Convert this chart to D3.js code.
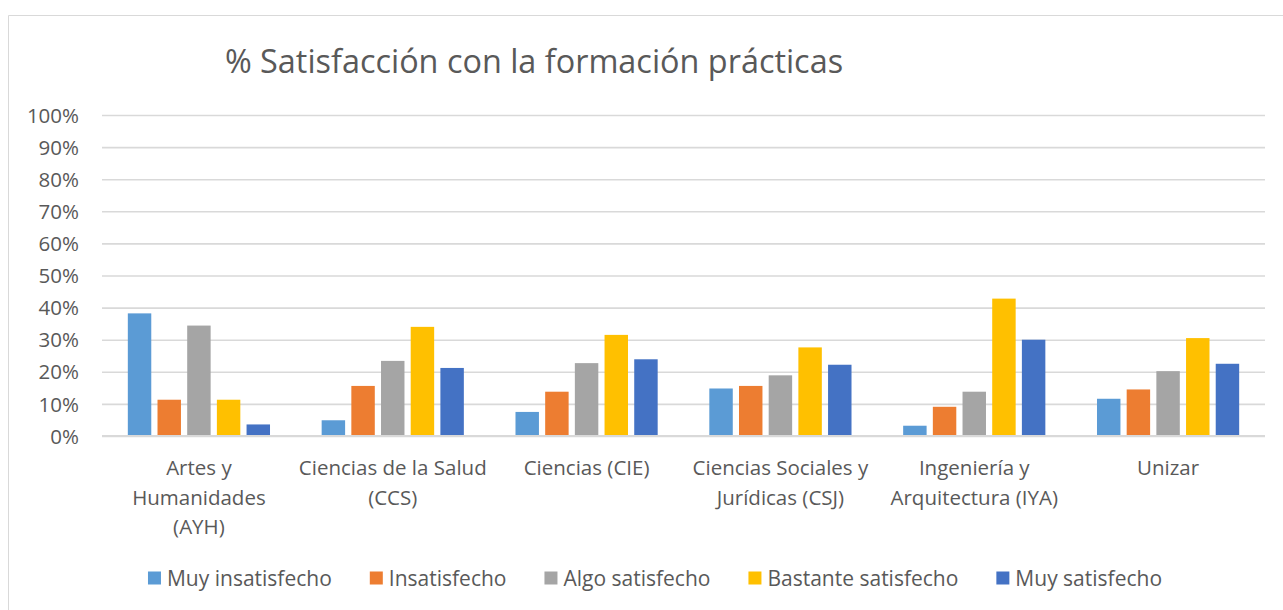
<!DOCTYPE html>
<html>
<head>
<meta charset="utf-8">
<script src="https://cdn.jsdelivr.net/npm/d3@7"></script>
<style>
  html, body { margin: 0; padding: 0; background: #fff; overflow: hidden; }
  svg { display: block; }
  text { font-family: "Open Sans", sans-serif; fill: #595959; }
</style>
</head>
<body>
<svg id="chart"></svg>
<script>
const categories = [
  ["Artes y", "Humanidades", "(AYH)"],
  ["Ciencias de la Salud", "(CCS)"],
  ["Ciencias (CIE)"],
  ["Ciencias Sociales y", "Jurídicas (CSJ)"],
  ["Ingeniería y", "Arquitectura (IYA)"],
  ["Unizar"]
];
const seriesNames = ["Muy insatisfecho", "Insatisfecho", "Algo satisfecho", "Bastante satisfecho", "Muy satisfecho"];
const seriesColors = ["#5B9BD5", "#ED7D31", "#A5A5A5", "#FFC000", "#4472C4"];

// values per series, one per category (fractions)
const muyInsatisfecho    = [0.382, 0.049, 0.075, 0.148, 0.032, 0.116];
const insatisfecho       = [0.113, 0.156, 0.138, 0.156, 0.091, 0.145];
const algoSatisfecho     = [0.344, 0.234, 0.227, 0.189, 0.138, 0.202];
const bastanteSatisfecho = [0.113, 0.340, 0.315, 0.276, 0.428, 0.305];
const muySatisfecho      = [0.036, 0.212, 0.239, 0.222, 0.300, 0.225];
const yTicks = [0, 0.1, 0.2, 0.3, 0.4, 0.5, 0.6, 0.7, 0.8, 0.9, 1.0];

const seriesValues = [muyInsatisfecho, insatisfecho, algoSatisfecho, bastanteSatisfecho, muySatisfecho];

const width = 1283, height = 610;
const margin = { top: 115, right: 18, bottom: 174, left: 102 };
const innerWidth = width - margin.left - margin.right;
const innerHeight = height - margin.top - margin.bottom;

const svg = d3.select("#chart").attr("width", width).attr("height", height);

// chart frame (only top and left edges are in view)
svg.append("path")
  .attr("d", `M8.5,${height}V15.5H${width}`)
  .attr("fill", "none").attr("stroke", "#D9D9D9").attr("stroke-width", 1);

const g = svg.append("g").attr("transform", `translate(${margin.left},${margin.top})`);

const x0 = d3.scaleBand().domain(d3.range(categories.length)).range([0, innerWidth]).padding(0);
const x1 = d3.scaleBand().domain(d3.range(seriesNames.length)).range([0, x0.bandwidth()])
  .paddingInner(0.21).paddingOuter(0.87);
const y = d3.scaleLinear().domain([0, 1]).range([innerHeight, 0]);

// gridlines + tick labels
const yAxis = d3.axisLeft(y).tickValues(yTicks).tickFormat(d3.format(".0%")).tickSize(-innerWidth).tickPadding(23);
const yg = g.append("g").call(yAxis);
yg.attr("font-family", null).attr("font-size", null);
yg.select(".domain").remove();
yg.selectAll(".tick line").attr("stroke", "#D9D9D9").attr("stroke-width", 1.6);
yg.selectAll(".tick text").attr("font-size", 20.5).attr("fill", "#595959").attr("dy", "0.35em");

// bars
const groups = g.selectAll(".cat")
  .data(categories.map((c, i) => i))
  .join("g")
  .attr("transform", i => `translate(${x0(i)},0)`);

groups.selectAll("rect")
  .data(i => seriesValues.map((vals, s) => ({ s, v: vals[i] })))
  .join("rect")
  .attr("x", d => x1(d.s))
  .attr("y", d => y(d.v))
  .attr("width", x1.bandwidth())
  .attr("height", d => innerHeight - y(d.v))
  .attr("fill", d => seriesColors[d.s]);

// baseline
g.append("line")
  .attr("x1", 0).attr("x2", innerWidth)
  .attr("y1", innerHeight).attr("y2", innerHeight)
  .attr("stroke", "#D9D9D9").attr("stroke-width", 2);

// category labels
const xg = g.append("g").attr("transform", `translate(0,${innerHeight})`);
categories.forEach((lines, i) => {
  const t = xg.append("text")
    .attr("text-anchor", "middle")
    .attr("font-size", 20.5);
  lines.forEach((ln, k) => {
    t.append("tspan")
      .attr("x", x0(i) + x0.bandwidth() / 2)
      .attr("y", 39 + k * 29.5)
      .text(ln);
  });
});

// title
svg.append("text")
  .attr("x", 534).attr("y", 73)
  .attr("text-anchor", "middle")
  .attr("font-size", 32.4)
  .text("% Satisfacción con la formación prácticas");

// legend
const legend = svg.append("g");
let lx = 0;
seriesNames.forEach((name, i) => {
  const item = legend.append("g").attr("transform", `translate(${lx},0)`);
  item.append("rect").attr("x", 0).attr("y", -6.5).attr("width", 13).attr("height", 13).attr("fill", seriesColors[i]);
  const t = item.append("text").attr("x", 19).attr("y", 7.5).attr("font-size", 21).text(name);
  lx += 19 + t.node().getComputedTextLength() + 38;
});
const legendWidth = lx - 38;
legend.attr("transform", `translate(${655 - legendWidth / 2},578)`);
</script>
</body>
</html>
